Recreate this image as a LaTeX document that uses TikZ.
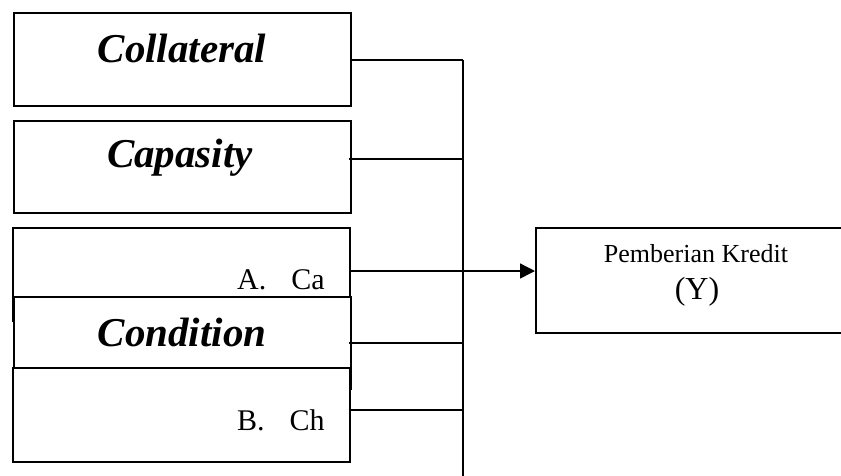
\documentclass[tikz,border=0pt]{standalone}
\usepackage{fontspec}
\setmainfont{Liberation Serif}
\usetikzlibrary{arrows.meta}
\begin{document}
\begin{tikzpicture}[x=1pt,y=-1pt,
  box/.style={draw=black,line width=1.5pt,fill=white,rectangle,anchor=north west,inner sep=0pt},
  head/.style={anchor=base,inner sep=0pt,font=\fontsize{41}{41}\selectfont\bfseries\itshape},
  small/.style={anchor=base west,inner sep=0pt,font=\fontsize{30}{30}\selectfont},
  conn/.style={line width=1.5pt},
  ]
\clip (0,0) rectangle (841,475);
% boxes
\node[box,minimum width=337pt,minimum height=93pt] (col) at (13,12) {};
\node[box,minimum width=337pt,minimum height=92pt] (cap) at (13,120) {};
\node[box,minimum width=337pt,minimum height=93pt] (ca) at (12,227) {};
\node[box,minimum width=337pt,minimum height=92pt] (cond) at (13,296) {};
\node[box,minimum width=337pt,minimum height=94pt] (ch) at (12,367) {};
\node[box,minimum width=330pt,minimum height=105pt] (kredit) at (535,227) {};
% texts
\node[head] (tcol) at (182,62) {Collateral};
\node[head] (tcap) at (180,167) {Capasity};
\node[head] (tcond) at (182,346) {Condition};
\node[small] (tca) at (237,289) {A.\hspace{25pt}Ca};
\node[small] (tch) at (237,430) {B.\hspace{25pt}Ch};
\node[anchor=base,inner sep=0pt,font=\fontsize{26}{26}\selectfont] (tkr) at (696,262) {Pemberian Kredit};
\node[anchor=base,inner sep=0pt,font=\fontsize{32}{32}\selectfont] (ty) at (697,299) {(Y)};
% bus
\coordinate (j1) at (463,60);
\coordinate (j2) at (463,159);
\coordinate (j3) at (463,271);
\coordinate (j4) at (463,343);
\coordinate (j5) at (463,410);
\coordinate (jend) at (463,476);
\draw[conn] (j1) -- (jend);
\draw[conn] (col.east |- j1) -- (j1);
\draw[conn] ([xshift=-3pt]cap.east |- j2) -- (j2);
\draw[conn] (ca.east |- j3) -- (j3);
\draw[conn] ([xshift=-3pt]cond.east |- j4) -- (j4);
\draw[conn] ([xshift=-2pt]ch.east |- j5) -- (j5);
\draw[conn,-{Triangle[length=15pt,width=15pt]}] (j3) -- (kredit.west |- j3);
\end{tikzpicture}
\end{document}
